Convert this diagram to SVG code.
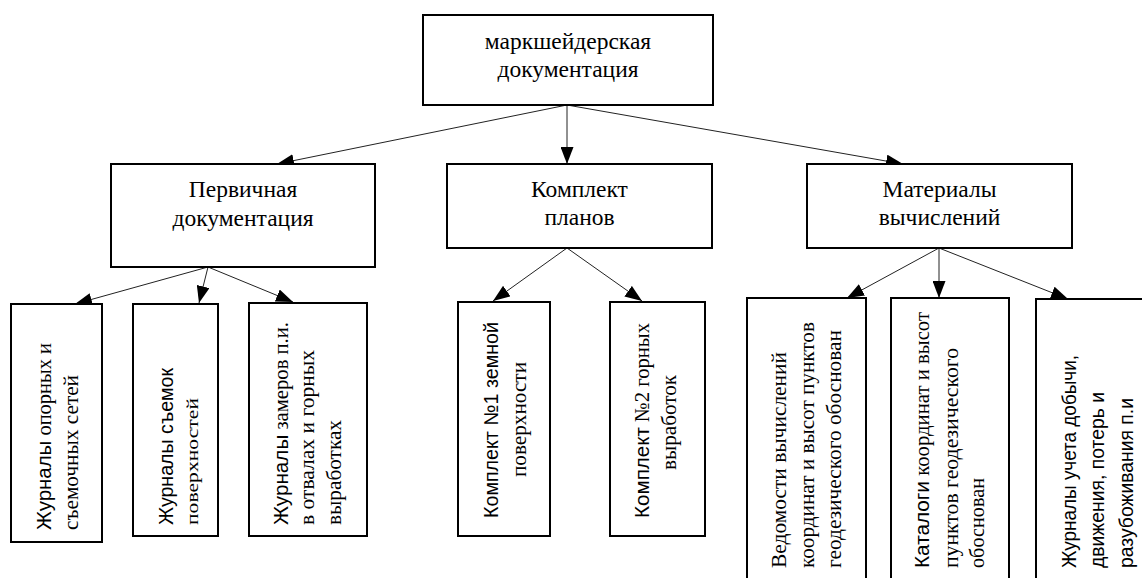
<svg xmlns="http://www.w3.org/2000/svg" width="1142" height="578" viewBox="0 0 1142 578">
  <style>
    .box { fill: #fff; stroke: #000; stroke-width: 2; }
    .link { stroke: #222; stroke-width: 1; fill: none; marker-end: url(#arrow); }
    .head { font-family: "Liberation Serif", Tinos, "DejaVu Serif", "Times New Roman", Times, serif; font-size: 23.5px; text-anchor: middle; fill: #000; }
    .serif { font-family: "Liberation Serif", Tinos, "DejaVu Serif", "Times New Roman", Times, serif; font-size: 21px; fill: #000; }
    .sans { font-family: "Liberation Sans", Arial, sans-serif; font-size: 20px; fill: #000; }
    .small { font-family: "Liberation Serif", Tinos, "DejaVu Serif", "Times New Roman", Times, serif; font-size: 17px; fill: #000; }
    tspan.s { font-family: "Liberation Sans", Arial, sans-serif; }
  </style>
  <defs>
    <marker id="arrow" markerUnits="userSpaceOnUse" markerWidth="17" markerHeight="13" refX="17" refY="6.5" orient="auto">
      <path d="M0,0 L17,6.5 L0,13 z" fill="#000"/>
    </marker>
  </defs>
  <rect width="1142" height="578" fill="#fff"/>

  <!-- connectors -->
  <g id="connectors">
    <line class="link" x1="567" y1="105" x2="277" y2="164"/>
    <line class="link" x1="567" y1="105" x2="567" y2="164"/>
    <line class="link" x1="567" y1="105" x2="903" y2="164"/>

    <line class="link" x1="208" y1="267" x2="75" y2="304"/>
    <line class="link" x1="208" y1="267" x2="199" y2="303"/>
    <line class="link" x1="208" y1="267" x2="293" y2="302"/>

    <line class="link" x1="567" y1="248" x2="493" y2="301"/>
    <line class="link" x1="567" y1="248" x2="642" y2="301"/>

    <line class="link" x1="939" y1="248" x2="847" y2="298"/>
    <line class="link" x1="939" y1="248" x2="939" y2="298"/>
    <line class="link" x1="939" y1="248" x2="1068" y2="299"/>
  </g>

  <!-- root -->
  <g id="root">
    <rect class="box" x="423" y="15" width="290" height="90"/>
    <text class="head" x="568" y="49">маркшейдерская</text>
    <text class="head" x="568" y="77">документация</text>
  </g>

  <!-- second level -->
  <g id="primary">
    <rect class="box" x="111" y="164" width="264" height="103"/>
    <text class="head" x="243" y="197">Первичная</text>
    <text class="head" x="243" y="226">документация</text>
  </g>
  <g id="plans">
    <rect class="box" x="447" y="164" width="265" height="84"/>
    <text class="head" x="579.5" y="197">Комплект</text>
    <text class="head" x="579.5" y="225">планов</text>
  </g>
  <g id="calculations">
    <rect class="box" x="807" y="164" width="265" height="84"/>
    <text class="head" x="939.5" y="197">Материалы</text>
    <text class="head" x="939.5" y="225">вычислений</text>
  </g>

  <!-- primary documentation -->
  <g id="control-networks">
    <rect class="box" x="11" y="304" width="91" height="238"/>
    <text class="serif" transform="translate(51,530) rotate(-90)" textLength="187" lengthAdjust="spacingAndGlyphs"><tspan class="s">Журналы</tspan> опорных и</text>
    <text class="serif" transform="translate(78,530) rotate(-90)" textLength="155" lengthAdjust="spacingAndGlyphs">съемочных сетей</text>
  </g>
  <g id="surface-surveys">
    <rect class="box" x="133" y="304" width="85" height="232"/>
    <text class="sans" transform="translate(173,525) rotate(-90)" textLength="157" lengthAdjust="spacingAndGlyphs">Журналы съемок</text>
    <text class="small" transform="translate(198,525) rotate(-90)" textLength="127" lengthAdjust="spacingAndGlyphs">поверхностей</text>
  </g>
  <g id="measurements">
    <rect class="box" x="249" y="303" width="118" height="233"/>
    <text class="serif" transform="translate(288,525) rotate(-90)" textLength="203" lengthAdjust="spacingAndGlyphs"><tspan class="s">Журналы</tspan> замеров п.и.</text>
    <text class="serif" transform="translate(314,525) rotate(-90)" textLength="175" lengthAdjust="spacingAndGlyphs">в отвалах и горных</text>
    <text class="serif" transform="translate(341,525) rotate(-90)" textLength="105" lengthAdjust="spacingAndGlyphs">выработках</text>
  </g>

  <!-- plan sets -->
  <g id="plan-surface">
    <rect class="box" x="458" y="302" width="92" height="234"/>
    <text class="sans" transform="translate(498,518) rotate(-90)" textLength="196" lengthAdjust="spacingAndGlyphs">Комплект №1 земной</text>
    <text class="serif" transform="translate(526,477) rotate(-90)" textLength="115" lengthAdjust="spacingAndGlyphs">поверхности</text>
  </g>
  <g id="plan-workings">
    <rect class="box" x="610" y="302" width="95" height="234"/>
    <text class="serif" transform="translate(649,518) rotate(-90)" textLength="195" lengthAdjust="spacingAndGlyphs"><tspan class="s">Комплект</tspan> №2 горных</text>
    <text class="serif" transform="translate(676,470) rotate(-90)" textLength="95" lengthAdjust="spacingAndGlyphs">выработок</text>
  </g>

  <!-- calculation materials -->
  <g id="statements">
    <rect class="box" x="747" y="298" width="119" height="300"/>
    <text class="serif" transform="translate(786,568) rotate(-90)" textLength="216" lengthAdjust="spacingAndGlyphs">Ведомости вычислений</text>
    <text class="serif" transform="translate(814,568) rotate(-90)" textLength="246" lengthAdjust="spacingAndGlyphs">координат и высот пунктов</text>
    <text class="serif" transform="translate(841,568) rotate(-90)" textLength="238" lengthAdjust="spacingAndGlyphs">геодезического обоснован</text>
  </g>
  <g id="catalogues">
    <rect class="box" x="891" y="298" width="118" height="300"/>
    <text class="serif" transform="translate(929,568) rotate(-90)" textLength="256" lengthAdjust="spacingAndGlyphs"><tspan class="s">Каталоги</tspan> координат и высот</text>
    <text class="serif" transform="translate(958,568) rotate(-90)" textLength="220" lengthAdjust="spacingAndGlyphs">пунктов геодезического</text>
    <text class="serif" transform="translate(984,568) rotate(-90)" textLength="90" lengthAdjust="spacingAndGlyphs">обоснован</text>
  </g>
  <g id="production-records">
    <rect class="box" x="1036" y="299" width="120" height="300"/>
    <text class="sans" transform="translate(1076,568) rotate(-90)" textLength="213" lengthAdjust="spacingAndGlyphs">Журналы учета добычи,</text>
    <text class="sans" transform="translate(1104,568) rotate(-90)" textLength="176" lengthAdjust="spacingAndGlyphs">движения, потерь и</text>
    <text class="sans" transform="translate(1133,568) rotate(-90)" textLength="170" lengthAdjust="spacingAndGlyphs">разубоживания п.и</text>
  </g>
</svg>
